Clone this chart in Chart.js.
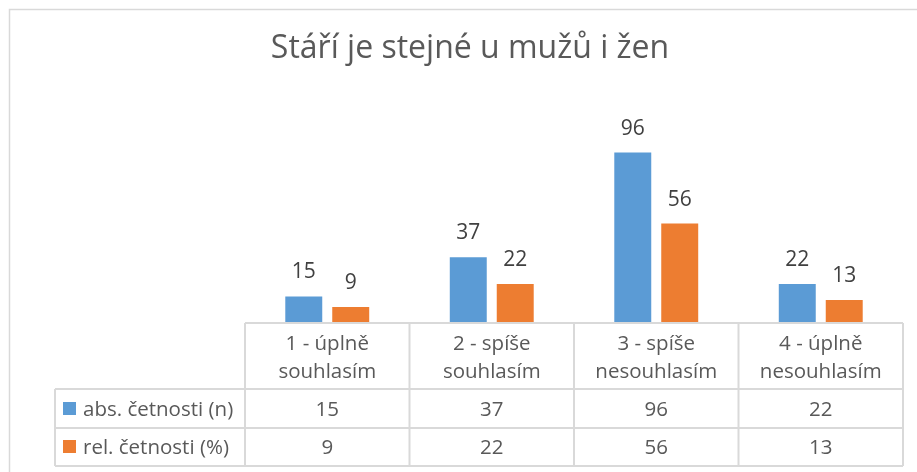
<!DOCTYPE html>
<html>
<head>
<meta charset="utf-8">
<script src="https://cdn.jsdelivr.net/npm/chart.js@4"></script>
<style>
  html, body { margin: 0; padding: 0; background: #fff; }
  canvas { display: block; }
</style>
</head>
<body>
<canvas id="myChart" width="917" height="472"></canvas>
<script>
const kategorie = [
  ['1 - úplně', 'souhlasím'],
  ['2 - spíše', 'souhlasím'],
  ['3 - spíše', 'nesouhlasím'],
  ['4 - úplně', 'nesouhlasím']
];
const absCetnosti = [15, 37, 96, 22];
const relCetnosti = [9, 22, 56, 13];
const nazvyRad = ['abs. četnosti (n)', 'rel. četnosti (%)'];
const titulek = 'Stáří je stejné u mužů i žen';

const modra = '#5B9BD5';
const oranzova = '#ED7D31';
const sedaText = '#595959';
const cara = '#D9D9D9';
const pismo = '"Open Sans", Lato, sans-serif';

// tabulka pod grafem + titulek + popisky
const tabulkaPlugin = {
  id: 'tabulka',
  afterDraw(chart) {
    const ctx = chart.ctx;
    const x = chart.scales.x;
    const area = chart.chartArea;
    const sirka = (area.right - area.left) / kategorie.length;
    const top = area.bottom;
    const radky = [top, 389, 428, 466];
    const levy = 55;

    ctx.save();

    // ramecek grafu
    ctx.strokeStyle = cara;
    ctx.lineWidth = 1.5;
    ctx.beginPath();
    ctx.moveTo(9.5, 1000);
    ctx.lineTo(9.5, 9.5);
    ctx.lineTo(1000, 9.5);
    ctx.stroke();

    // titulek
    ctx.fillStyle = sedaText;
    ctx.font = '32px ' + pismo;
    ctx.textAlign = 'center';
    ctx.textBaseline = 'alphabetic';
    ctx.fillText(titulek, 470, 58);

    // popisky hodnot nad sloupci
    ctx.fillStyle = '#404040';
    ctx.font = '21px ' + pismo;
    chart.data.datasets.forEach((ds, di) => {
      chart.getDatasetMeta(di).data.forEach((bar, i) => {
        ctx.fillText(ds.data[i], bar.x, bar.y - 18);
      });
    });

    // mrizka tabulky
    ctx.strokeStyle = cara;
    ctx.lineWidth = 2;
    ctx.beginPath();
    ctx.moveTo(area.left, radky[0]);
    ctx.lineTo(area.right, radky[0]);
    for (let r = 1; r < radky.length; r++) {
      ctx.moveTo(levy, radky[r]);
      ctx.lineTo(area.right, radky[r]);
    }
    ctx.moveTo(levy, radky[1]);
    ctx.lineTo(levy, radky[3]);
    for (let c = 0; c <= kategorie.length; c++) {
      const cx = area.left + c * sirka;
      ctx.moveTo(cx, radky[0]);
      ctx.lineTo(cx, radky[3]);
    }
    ctx.stroke();

    // text v tabulce
    ctx.fillStyle = sedaText;
    ctx.font = '20.5px ' + pismo;
    ctx.textAlign = 'center';
    kategorie.forEach((lab, i) => {
      const cx = x.getPixelForValue(i);
      ctx.fillText(lab[0], cx, 350);
      ctx.fillText(lab[1], cx, 378);
      ctx.fillText(absCetnosti[i], cx, 416);
      ctx.fillText(relCetnosti[i], cx, 454);
    });

    // legenda v tabulce
    ctx.textAlign = 'left';
    [modra, oranzova].forEach((barva, r) => {
      const base = r === 0 ? 416 : 454;
      ctx.fillStyle = barva;
      ctx.fillRect(63, base - 14, 13, 13);
      ctx.fillStyle = sedaText;
      ctx.fillText(nazvyRad[r], 83, base);
    });

    ctx.restore();
  }
};

const ctx = document.getElementById('myChart');

new Chart(ctx, {
  type: 'bar',
  data: {
    labels: kategorie,
    datasets: [{
      label: nazvyRad[0],
      data: absCetnosti,
      backgroundColor: modra,
      categoryPercentage: 0.571,
      barPercentage: 0.787
    }, {
      label: nazvyRad[1],
      data: relCetnosti,
      backgroundColor: oranzova,
      categoryPercentage: 0.571,
      barPercentage: 0.787
    }]
  },
  options: {
    responsive: false,
    animation: false,
    layout: {
      padding: { left: 245, right: 14, top: 110, bottom: 149 }
    },
    scales: {
      x: { display: false },
      y: { display: false, min: 0, max: 120 }
    },
    plugins: {
      legend: { display: false },
      tooltip: { enabled: false },
      title: { display: false }
    }
  },
  plugins: [tabulkaPlugin]
});
</script>
</body>
</html>
